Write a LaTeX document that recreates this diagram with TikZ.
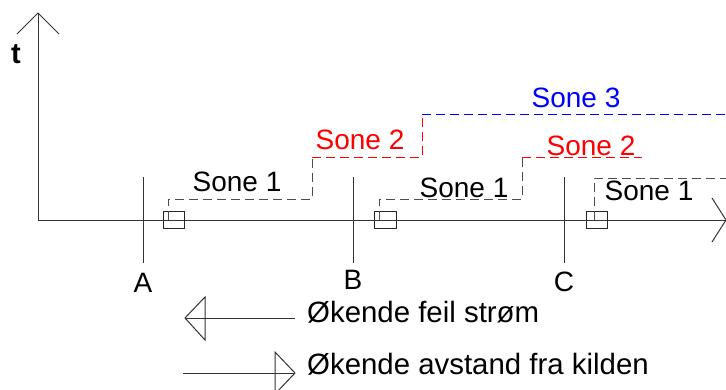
\documentclass[tikz,border=0pt]{standalone}
\usepackage{fontspec}
\setmainfont{Liberation Sans}
\begin{document}
\begin{tikzpicture}[x=1pt,y=-1pt,
  axis/.style={line width=1pt, draw=black!80},
  zone/.style={line width=1pt, dash pattern=on 9pt off 5pt},
  lbl/.style={inner sep=0pt, anchor=base, font=\fontsize{28}{30}\selectfont},
  leg/.style={inner sep=0pt, anchor=base west, font=\fontsize{29.4}{31}\selectfont},
  brk/.style={draw=black!85, line width=0.9pt}]
\useasboundingbox (0,0) rectangle (726,389);

% axes
\coordinate (o) at (38,220);
\coordinate (ttop) at (38,13);
\coordinate (xend) at (726,220);
\draw[axis] (o) -- (ttop);
\draw[axis] (17,34) -- (ttop) -- (59,34);
\draw[axis] (o) -- (xend);
\draw[axis] (712,198) -- (xend) -- (712,242);
\node[lbl, font=\fontsize{29}{30}\selectfont\bfseries] (tlab) at (16,63) {t};

% stations
\foreach \n/\x/\yl in {A/143/292, B/353/289, C/564/291}{
  \draw[axis] (\x,177) coordinate (\n top) -- (\x,263) coordinate (\n bot);
  \node[lbl] (\n) at (\x,\yl) {\n};
}

% breakers
\draw[brk] (163,211) rectangle (184,228);
\draw[brk] (374,211) rectangle (396,228);
\draw[brk] (586,211) rectangle (607,228);

% zone characteristics of relay at A
\draw[zone, draw=black!70] (168,220) -- (168,199) -- (312,199) -- (312,157);
\draw[zone, draw=red] (312,157) -- (422,157) -- (422,114);
\draw[zone, draw=blue] (422,114) -- (726,114);
% relay at B
\draw[zone, draw=black!70] (379,220) -- (379,199) -- (522,199) -- (522,157);
\draw[zone, draw=red] (522,157) -- (642,157);
% relay at C
\draw[zone, draw=black!70] (594,220) -- (594,178) -- (726,178);

\node[lbl] (z1a) at (237,191) {Sone 1};
\node[lbl, text=red] (z2a) at (360,149) {Sone 2};
\node[lbl, text=blue] (z3a) at (576,107) {Sone 3};
\node[lbl] (z1b) at (464,197) {Sone 1};
\node[lbl, text=red] (z2b) at (591,155) {Sone 2};
\node[lbl] (z1c) at (649,200) {Sone 1};

% legend arrows
\coordinate (l1s) at (295,318);
\coordinate (l1e) at (185,318);
\draw[axis] (l1s) -- (l1e);
\draw[axis] (205,297) -- (l1e) -- (205,340) -- cycle;
\node[leg] (leg1) at (307,322) {Økende feil strøm};

\coordinate (l2s) at (183,373);
\coordinate (l2e) at (295,373);
\draw[axis] (l2s) -- (l2e);
\draw[axis] (275,352) -- (l2e) -- (275,394) -- cycle;
\node[leg] (leg2) at (307,374) {Økende avstand fra kilden};
\end{tikzpicture}
\end{document}
